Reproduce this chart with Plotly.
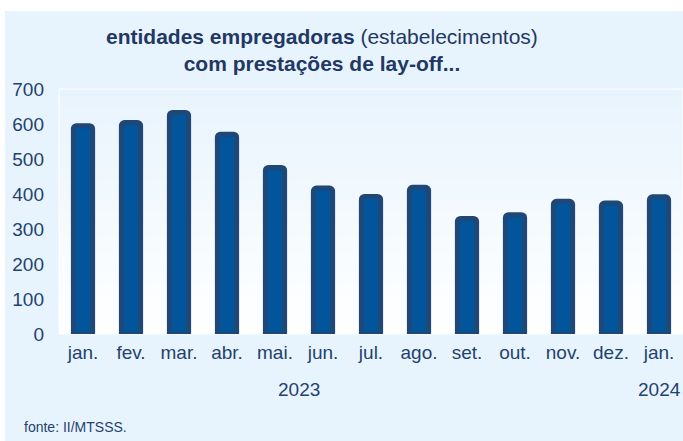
import plotly.graph_objects as go

months = ["jan.", "fev.", "mar.", "abr.", "mai.", "jun.", "jul.", "ago.", "set.", "out.", "nov.", "dez.", "jan."]
values = [595, 604, 633, 571, 476, 417, 393, 419, 330, 341, 379, 374, 392]
years = ["2023", "2024"]
year_pos = [4.5, 12]
y_ticks = [0, 100, 200, 300, 400, 500, 600, 700]

W, H = 683, 441
L, R, T, B = 59, 0, 89, 107
pw, ph = W - L - R, H - T - B

FONT = "Liberation Sans, Arial, sans-serif"
TXT = "#1F426F"
BAR = "#00559B"
BARLINE = "#1F4778"
BG = "#E8F4FD"

x = list(range(len(months)))
fig = go.Figure(go.Bar(
    x=x, y=values, width=0.4,
    marker=dict(color=BAR, line=dict(color=BARLINE, width=5), cornerradius=3),
    hoverinfo="skip",
))

shapes = []
shapes.append(dict(type="rect", xref="paper", yref="paper",
                   x0=(5 - L) / pw, x1=(W - L + 5) / pw,
                   y0=-(B + 5) / ph, y1=1 + (T - 11) / ph,
                   fillcolor=BG, line=dict(width=0), layer="below"))
N = 40
c_top = (232, 244, 253)
c_bot = (255, 255, 255)
for i in range(N):
    f = i / (N - 1)
    c = tuple(round(c_bot[k] + (c_top[k] - c_bot[k]) * f) for k in range(3))
    shapes.append(dict(type="rect", xref="paper", yref="paper",
                       x0=0, x1=1, y0=i / N, y1=(i + 1) / N + 0.002,
                       fillcolor="rgb(%d,%d,%d)" % c, line=dict(width=0), layer="below"))
shapes.append(dict(type="rect", xref="paper", yref="paper", x0=0, x1=1, y0=0, y1=1,
                   fillcolor="rgba(0,0,0,0)", line=dict(color="white", width=1), layer="below"))

annotations = [
    dict(text="<b>entidades empregadoras</b> (estabelecimentos)<br><b>com prestações de lay-off...</b>",
         xref="paper", yref="paper", x=(322 - L) / pw, y=1 + (T - 50) / ph,
         xanchor="center", yanchor="middle", showarrow=False,
         font=dict(family=FONT, size=21, color="#1F3864")),
    dict(text="fonte: II/MTSSS.", xref="paper", yref="paper",
         x=(22 - L) / pw, y=-(427 - T - ph) / ph, xanchor="left", yanchor="middle",
         showarrow=False, font=dict(family=FONT, size=14, color=TXT)),
]
for yr, xp in zip(years, year_pos):
    annotations.append(dict(text=yr, x=xp, xref="x", yref="paper",
                            y=-(389 - T - ph) / ph, xanchor="center", yanchor="middle",
                            showarrow=False, font=dict(family=FONT, size=19, color=TXT)))

fig.update_layout(
    width=W, height=H, margin=dict(l=L, r=R, t=T, b=B),
    paper_bgcolor="white", plot_bgcolor="rgba(0,0,0,0)",
    showlegend=False, shapes=shapes, annotations=annotations,
    xaxis=dict(tickmode="array", tickvals=x, ticktext=months, range=[-0.5, len(months) - 0.5],
               showgrid=False, zeroline=False, showline=False, ticks="",
               tickfont=dict(family=FONT, size=19, color=TXT), ticklabelstandoff=5),
    yaxis=dict(range=[0, 700], tickvals=y_ticks, showgrid=False, zeroline=False, showline=False,
               ticks="", tickfont=dict(family=FONT, size=19, color=TXT), ticklabelstandoff=14),
)
fig.write_html("out.html", config={"displayModeBar": False},
               post_script="document.body.style.margin='0';document.body.style.overflow='hidden';")
